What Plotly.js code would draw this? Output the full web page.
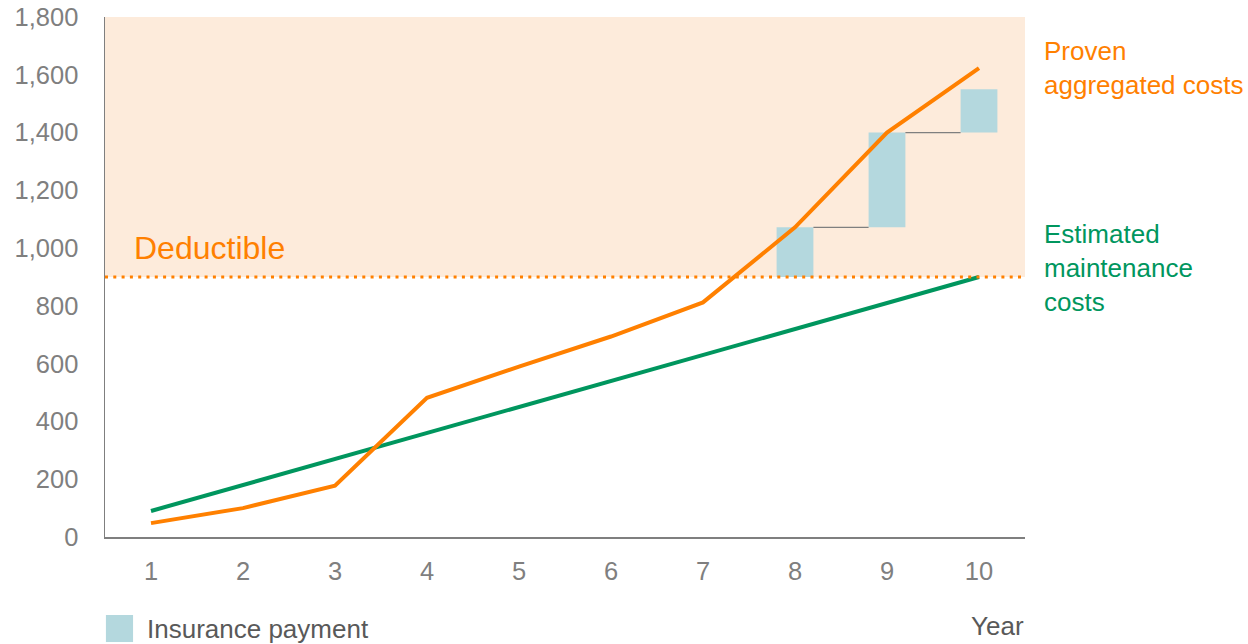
<!DOCTYPE html>
<html>
<head>
<meta charset="utf-8">
<script src="https://cdn.plot.ly/plotly-3.0.1.min.js"></script>
<style>html,body{margin:0;padding:0;background:#fff;}#chart{width:1248px;height:644px;}</style>
</head>
<body>
<div id="chart"></div>
<script>
// ---- data ----
var years = [1, 2, 3, 4, 5, 6, 7, 8, 9, 10];
var provenCosts = [48, 100, 178, 482, 590, 694, 812, 1072, 1400, 1623];
var estimatedCosts = [90, 180, 270, 360, 450, 540, 630, 720, 810, 900];
var paymentYears = [8, 9, 10];
var paymentBase = [900, 1072, 1400];
var paymentTop = [1072, 1400, 1550];
var deductible = 900;
var yMax = 1800;
var yTicks = [0, 200, 400, 600, 800, 1000, 1200, 1400, 1600, 1800];

// ---- styles ----
var FONT = 'Arial, "Liberation Sans", sans-serif';
var ORANGE = '#ff8000';
var GREEN = '#00965e';
var BAR = '#b4d8de';
var GREY = '#7f7f7f';
var BAR_W = 0.4;

var traces = [];

// insurance payment bars (floating)
traces.push({
  type: 'bar',
  x: paymentYears,
  base: paymentBase,
  y: paymentTop.map(function (t, i) { return t - paymentBase[i]; }),
  width: BAR_W,
  marker: {color: BAR, line: {width: 0}},
  hoverinfo: 'skip',
  showlegend: false
});

// connector lines between bars
for (var i = 0; i < paymentYears.length - 1; i++) {
  traces.push({
    type: 'scatter', mode: 'lines',
    x: [paymentYears[i] + BAR_W / 2, paymentYears[i + 1] - BAR_W / 2],
    y: [paymentTop[i], paymentTop[i]],
    line: {color: GREY, width: 1.3},
    hoverinfo: 'skip', showlegend: false
  });
}

traces.push({
  type: 'scatter', mode: 'lines', x: years, y: estimatedCosts,
  line: {color: GREEN, width: 4}, showlegend: false
});
traces.push({
  type: 'scatter', mode: 'lines', x: years, y: provenCosts,
  line: {color: ORANGE, width: 4}, showlegend: false
});

var layout = {
  width: 1248, height: 644,
  margin: {l: 105, r: 223, t: 17, b: 107},
  paper_bgcolor: '#ffffff', plot_bgcolor: 'rgba(0,0,0,0)',
  font: {family: FONT, size: 26, color: GREY},
  showlegend: false,
  xaxis: {
    range: [0.5, 10.5], tickmode: 'array', tickvals: years, ticktext: years.map(String),
    showgrid: false, zeroline: false, showline: true, linecolor: GREY, linewidth: 1.5,
    ticks: 'outside', ticklen: 11, tickcolor: 'rgba(0,0,0,0)',
    tickfont: {family: FONT, size: 25.5, color: GREY}, fixedrange: true
  },
  yaxis: {
    range: [0, yMax], tickmode: 'array', tickvals: yTicks,
    ticktext: yTicks.map(function (v) { return v.toLocaleString('en-US'); }),
    showgrid: false, zeroline: false, showline: true, linecolor: GREY, linewidth: 1.5,
    ticks: 'outside', ticklen: 20, tickcolor: 'rgba(0,0,0,0)',
    tickfont: {family: FONT, size: 25.5, color: GREY}, fixedrange: true
  },
  shapes: [
    {type: 'rect', xref: 'paper', yref: 'y', x0: 0, x1: 1, y0: deductible, y1: yMax,
     fillcolor: '#fdebdb', line: {width: 0}, layer: 'below'},
    {type: 'line', xref: 'paper', yref: 'y', x0: 0, x1: 1, y0: deductible, y1: deductible,
     line: {color: ORANGE, width: 3, dash: '3px,5.3px'}, layer: 'above'},
    // legend swatch
    {type: 'rect', xref: 'paper', yref: 'paper', x0: 0.001, x1: 0.0305, y0: -0.150, y1: -0.202,
     fillcolor: BAR, line: {width: 0}}
  ],
  annotations: [
    {text: 'Deductible', xref: 'x', yref: 'y', x: 0.8, y: 1000, xanchor: 'left', yanchor: 'middle',
     showarrow: false, borderpad: 0, font: {family: FONT, size: 32, color: ORANGE}},
    {text: 'Proven<br>aggregated costs', xref: 'paper', yref: 'y', x: 1.0196, y: provenCosts[9],
     xanchor: 'left', yanchor: 'middle', align: 'left', showarrow: false, borderpad: 0,
     font: {family: FONT, size: 26, color: ORANGE}},
    {text: 'Estimated<br>maintenance<br>costs', xref: 'paper', yref: 'y', x: 1.0196, y: estimatedCosts[9],
     yshift: 9, xanchor: 'left', yanchor: 'middle', align: 'left', showarrow: false, borderpad: 0,
     font: {family: FONT, size: 26, color: GREEN}},
    {text: 'Year', xref: 'paper', yref: 'paper', x: 1, y: -0.171, xanchor: 'right', yanchor: 'middle',
     showarrow: false, borderpad: 0, font: {family: FONT, size: 26, color: '#595959'}},
    {text: 'Insurance payment', xref: 'paper', yref: 'paper', x: 0.0446, y: -0.176, xanchor: 'left',
     yanchor: 'middle', showarrow: false, borderpad: 0, font: {family: FONT, size: 26, color: '#595959'}}
  ]
};

Plotly.newPlot('chart', traces, layout, {displayModeBar: false, staticPlot: true});
</script>
</body>
</html>
